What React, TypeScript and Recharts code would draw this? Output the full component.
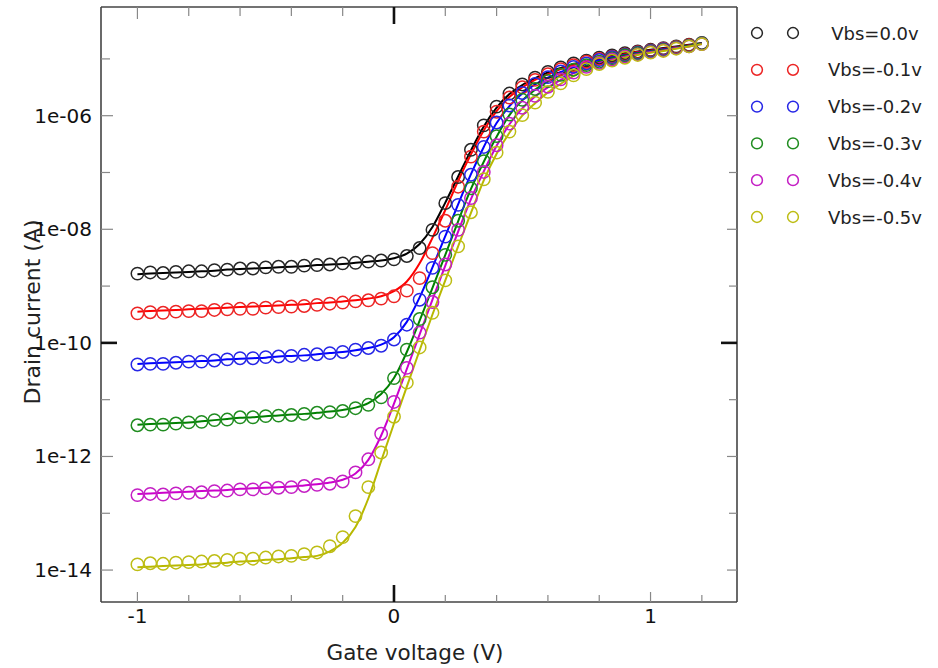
import React from 'react';
import { ComposedChart, Line, Scatter, XAxis, YAxis, Legend } from 'recharts';

// gate voltage sweep (V)
const gateVoltage = [
  -1, -0.95, -0.9, -0.85, -0.8, -0.75, -0.7, -0.65, -0.6, -0.55, -0.5, -0.45, -0.4, -0.35, -0.3,
  -0.25, -0.2, -0.15, -0.1, -0.05, 0, 0.05, 0.1, 0.15, 0.2, 0.25, 0.3, 0.35, 0.4, 0.45, 0.5,
  0.55, 0.6, 0.65, 0.7, 0.75, 0.8, 0.85, 0.9, 0.95, 1.0, 1.05, 1.1, 1.15, 1.2,
];

// measured drain current, log10(A)
const measBs00 = [
  -8.78, -8.76, -8.77, -8.75, -8.74, -8.74, -8.72, -8.71, -8.69, -8.69, -8.67, -8.66, -8.66, -8.64, -8.63,
  -8.62, -8.6, -8.59, -8.57, -8.55, -8.53, -8.47, -8.33, -8.01, -7.54, -7.08, -6.6, -6.17, -5.84, -5.61,
  -5.45, -5.33, -5.23, -5.15, -5.08, -5.03, -4.98, -4.94, -4.9, -4.87, -4.84, -4.81, -4.78, -4.75, -4.72,
];
const measBs01 = [
  -9.48, -9.46, -9.47, -9.45, -9.44, -9.44, -9.42, -9.41, -9.4, -9.4, -9.38, -9.37, -9.36, -9.35, -9.33,
  -9.31, -9.29, -9.27, -9.25, -9.22, -9.18, -9.08, -8.86, -8.42, -7.85, -7.25, -6.72, -6.28, -5.93, -5.68,
  -5.5, -5.37, -5.27, -5.18, -5.11, -5.05, -5.0, -4.96, -4.92, -4.88, -4.85, -4.82, -4.79, -4.76, -4.73,
];
const measBs02 = [
  -10.38, -10.37, -10.37, -10.35, -10.33, -10.33, -10.31, -10.29, -10.27, -10.27, -10.25, -10.24, -10.23, -10.21, -10.2,
  -10.18, -10.16, -10.12, -10.09, -10.05, -9.94, -9.68, -9.24, -8.68, -8.13, -7.57, -7.04, -6.55, -6.12, -5.82,
  -5.6, -5.44, -5.32, -5.22, -5.14, -5.08, -5.02, -4.97, -4.93, -4.89, -4.86, -4.83, -4.8, -4.77, -4.73,
];
const measBs03 = [
  -11.45, -11.44, -11.44, -11.42, -11.4, -11.39, -11.36, -11.35, -11.31, -11.31, -11.29, -11.28, -11.27, -11.25, -11.23,
  -11.22, -11.2, -11.15, -11.09, -10.96, -10.62, -10.12, -9.58, -9.02, -8.45, -7.85, -7.28, -6.8, -6.36, -5.98,
  -5.72, -5.53, -5.39, -5.28, -5.19, -5.11, -5.05, -4.99, -4.94, -4.9, -4.87, -4.84, -4.8, -4.77, -4.73,
];
const measBs04 = [
  -12.68, -12.66, -12.67, -12.65, -12.64, -12.63, -12.61, -12.6, -12.58, -12.58, -12.56, -12.55, -12.54, -12.52, -12.5,
  -12.48, -12.44, -12.28, -12.05, -11.6, -11.04, -10.44, -9.82, -9.28, -8.62, -8.01, -7.45, -6.99, -6.52, -6.14,
  -5.86, -5.65, -5.49, -5.36, -5.24, -5.14, -5.07, -5.01, -4.96, -4.92, -4.88, -4.85, -4.81, -4.78, -4.74,
];
const measBs05 = [
  -13.9, -13.88, -13.89, -13.87, -13.86, -13.85, -13.84, -13.82, -13.8, -13.8, -13.78, -13.76, -13.75, -13.72, -13.69,
  -13.58, -13.42, -13.05, -12.54, -11.93, -11.3, -10.7, -10.08, -9.47, -8.9, -8.3, -7.7, -7.12, -6.65, -6.28,
  -5.99, -5.77, -5.58, -5.43, -5.29, -5.18, -5.09, -5.03, -4.98, -4.93, -4.89, -4.86, -4.82, -4.78, -4.74,
];

// model fit, log10(A)
const fitBs00 = [
  -8.79, -8.78, -8.77, -8.76, -8.75, -8.74, -8.73, -8.71, -8.7, -8.69, -8.68, -8.67, -8.66, -8.65, -8.63,
  -8.62, -8.61, -8.59, -8.57, -8.55, -8.51, -8.43, -8.26, -7.96, -7.53, -7.07, -6.61, -6.19, -5.86, -5.62,
  -5.46, -5.34, -5.24, -5.16, -5.09, -5.03, -4.98, -4.94, -4.9, -4.87, -4.84, -4.81, -4.78, -4.75, -4.72,
];
const fitBs01 = [
  -9.45, -9.44, -9.43, -9.42, -9.41, -9.4, -9.39, -9.38, -9.37, -9.36, -9.35, -9.34, -9.33, -9.32, -9.3,
  -9.29, -9.27, -9.25, -9.22, -9.18, -9.09, -8.92, -8.6, -8.15, -7.66, -7.15, -6.68, -6.26, -5.92, -5.67,
  -5.5, -5.37, -5.27, -5.18, -5.11, -5.05, -5.0, -4.96, -4.92, -4.88, -4.85, -4.82, -4.79, -4.76, -4.73,
];
const fitBs02 = [
  -10.37, -10.36, -10.35, -10.34, -10.33, -10.32, -10.31, -10.29, -10.28, -10.27, -10.26, -10.24, -10.23, -10.22, -10.2,
  -10.18, -10.16, -10.13, -10.09, -10.03, -9.9, -9.63, -9.2, -8.67, -8.12, -7.56, -7.03, -6.55, -6.13, -5.83,
  -5.61, -5.45, -5.33, -5.23, -5.15, -5.08, -5.02, -4.97, -4.93, -4.89, -4.86, -4.83, -4.8, -4.77, -4.73,
];
const fitBs03 = [
  -11.44, -11.43, -11.42, -11.41, -11.4, -11.38, -11.36, -11.34, -11.32, -11.31, -11.29, -11.28, -11.26, -11.25, -11.23,
  -11.21, -11.18, -11.14, -11.06, -10.9, -10.62, -10.16, -9.61, -9.03, -8.45, -7.86, -7.29, -6.81, -6.37, -5.99,
  -5.73, -5.54, -5.4, -5.29, -5.2, -5.12, -5.05, -4.99, -4.94, -4.9, -4.87, -4.84, -4.8, -4.77, -4.73,
];
const fitBs04 = [
  -12.66, -12.65, -12.64, -12.63, -12.62, -12.61, -12.6, -12.59, -12.57, -12.56, -12.55, -12.54, -12.53, -12.51, -12.49,
  -12.46, -12.41, -12.3, -12.06, -11.63, -11.07, -10.46, -9.85, -9.24, -8.64, -8.04, -7.47, -6.98, -6.53, -6.15,
  -5.87, -5.66, -5.5, -5.37, -5.25, -5.15, -5.07, -5.01, -4.96, -4.92, -4.88, -4.85, -4.81, -4.78, -4.74,
];
const fitBs05 = [
  -13.95, -13.94, -13.93, -13.92, -13.91, -13.9, -13.88, -13.87, -13.85, -13.84, -13.82, -13.81, -13.79, -13.77, -13.75,
  -13.67, -13.52, -13.24, -12.74, -12.08, -11.42, -10.77, -10.13, -9.5, -8.9, -8.3, -7.71, -7.14, -6.67, -6.3,
  -6.0, -5.78, -5.59, -5.44, -5.3, -5.19, -5.1, -5.03, -4.98, -4.93, -4.89, -4.86, -4.82, -4.78, -4.74,
];

const seriesNames = ['Vbs=0.0v', 'Vbs=-0.1v', 'Vbs=-0.2v', 'Vbs=-0.3v', 'Vbs=-0.4v', 'Vbs=-0.5v'];
const markerColors = ['#262626', '#ec2424', '#2626e6', '#1f8c1f', '#c41fc4', '#bdbd14'];
const lineColors = ['#000000', '#ff0000', '#0000ff', '#008000', '#cc00cc', '#b8b800'];
const measured = [measBs00, measBs01, measBs02, measBs03, measBs04, measBs05];
const fitted = [fitBs00, fitBs01, fitBs02, fitBs03, fitBs04, fitBs05];

const xTicks = [-1, -0.8, -0.6, -0.4, -0.2, 0, 0.2, 0.4, 0.6, 0.8, 1, 1.2];
const xTickLabels = ['-1', '', '', '', '', '0', '', '', '', '', '1', ''];
const yTicks = [1e-14, 1e-13, 1e-12, 1e-11, 1e-10, 1e-9, 1e-8, 1e-7, 1e-6, 1e-5];
const yTickLabels = ['1e-14', '', '1e-12', '', '1e-10', '', '1e-08', '', '1e-06', ''];

const xDomain = [-1.142, 1.337];
const yDomain = [2.74e-15, 8.2e-5];

const PLOT_TOP = 7;
const PLOT_BOTTOM = 602;

const toPoints = (logs: number[]) => gateVoltage.map((v, i) => ({ x: v, y: Math.pow(10, logs[i]) }));

const FONT = 'DejaVu Sans, Verdana, sans-serif';
const frame = { stroke: '#444', strokeWidth: 1.6 };

const findX = (v: number) => xTicks.findIndex((t) => Math.abs(t - v) < 1e-6);
const findY = (v: number) => yTicks.findIndex((t) => Math.abs(t - v) < t * 1e-6);

const tickStroke = (accent: boolean) => (accent ? { stroke: '#111', strokeWidth: 2.6 } : { stroke: '#888', strokeWidth: 1.2 });

// x ticks: drawn inward at bottom and top of the frame, labels under it
const BottomTick = (props: any) => {
  const { x, y, payload } = props;
  const i = findX(payload.value);
  const label = xTickLabels[i];
  const accent = xTicks[i] === 0;
  const len = accent ? 17 : label ? 10 : 7;
  const topLen = accent ? 17 : label ? 12 : 9;
  const top = y - (PLOT_BOTTOM - PLOT_TOP);
  return (
    <g>
      <line x1={x} x2={x} y1={y} y2={y - len} {...tickStroke(accent)} />
      <line x1={x} x2={x} y1={top} y2={top + topLen} {...tickStroke(accent)} />
      {label && (
        <text x={x} y={y + 14} textAnchor="middle" dominantBaseline="central" fontFamily={FONT} fontSize={20} fill="#111">
          {label}
        </text>
      )}
    </g>
  );
};

const LeftTick = (props: any) => {
  const { x, y, payload } = props;
  const i = findY(payload.value);
  const label = yTickLabels[i];
  const accent = yTicks[i] === 1e-10;
  const len = accent ? 16 : label ? 12 : 9;
  return (
    <g>
      <line x1={x} x2={x + len} y1={y} y2={y} {...tickStroke(accent)} />
      {label && (
        <text x={x - 9} y={y} textAnchor="end" dominantBaseline="central" fontFamily={FONT} fontSize={20} fill="#111">
          {label}
        </text>
      )}
    </g>
  );
};

const RightTick = (props: any) => {
  const { x, y, payload } = props;
  const i = findY(payload.value);
  const accent = yTicks[i] === 1e-10;
  const len = accent ? 16 : yTickLabels[i] ? 10 : 8;
  return <line x1={x} x2={x - len} y1={y} y2={y} {...tickStroke(accent)} />;
};

const OpenCircle = (color: string) => (p: any) =>
  <circle cx={p.cx} cy={p.cy} r={6.2} fill="none" stroke={color} strokeWidth={1.5} />;

const renderLegend = () => (
  <svg width={198} height={240}>
    {seriesNames.map((name, i) => {
      const cy = 33 + i * 36.8;
      return (
        <g key={name}>
          <circle cx={17} cy={cy} r={5.4} fill="none" stroke={markerColors[i]} strokeWidth={1.5} />
          <circle cx={53} cy={cy} r={5.4} fill="none" stroke={markerColors[i]} strokeWidth={1.5} />
          <text x={135} y={cy} textAnchor="middle" dominantBaseline="central" fontFamily={FONT} fontSize={18} fill="#222">
            {name}
          </text>
        </g>
      );
    })}
  </svg>
);

export default function App() {
  return (
    <div style={{ position: 'absolute', left: 0, top: 0, width: 938, height: 668, background: '#fff' }}>
      <ComposedChart width={938} height={668} margin={{ top: 6, right: 200, bottom: 0, left: 0 }}>
        <XAxis
          dataKey="x"
          type="number"
          domain={xDomain}
          ticks={xTicks}
          interval={0}
          allowDataOverflow
          height={66}
          tickSize={0}
          tickMargin={0}
          tickLine={false}
          axisLine={frame}
          tick={BottomTick}
          label={{
            content: () => (
              <text x={415} y={652} textAnchor="middle" dominantBaseline="central" fontFamily={FONT} fontSize={21.5} fill="#222">
                Gate voltage (V)
              </text>
            ),
          }}
        />
        <XAxis
          xAxisId="top"
          orientation="top"
          type="number"
          domain={xDomain}
          height={1}
          tick={false}
          tickLine={false}
          axisLine={frame}
        />
        <YAxis
          dataKey="y"
          type="number"
          scale="log"
          domain={yDomain}
          ticks={yTicks}
          interval={0}
          allowDataOverflow
          width={101}
          tickSize={0}
          tickMargin={0}
          tickLine={false}
          axisLine={frame}
          tick={LeftTick}
          label={{
            content: () => (
              <text
                x={32}
                y={312}
                transform="rotate(-90 32 312)"
                textAnchor="middle"
                dominantBaseline="central"
                fontFamily={FONT}
                fontSize={22}
                fill="#222"
              >
                Drain current (A)
              </text>
            ),
          }}
        />
        <YAxis
          yAxisId="right"
          orientation="right"
          type="number"
          scale="log"
          domain={yDomain}
          ticks={yTicks}
          interval={0}
          allowDataOverflow
          width={1}
          tickSize={0}
          tickMargin={0}
          tickLine={false}
          axisLine={frame}
          tick={RightTick}
        />
        {fitted.map((logs, i) => (
          <Line
            key={`fit-${i}`}
            data={toPoints(logs)}
            dataKey="y"
            type="monotone"
            stroke={lineColors[i]}
            strokeWidth={2}
            dot={false}
            activeDot={false}
            isAnimationActive={false}
          />
        ))}
        {measured.map((logs, i) => (
          <Scatter
            key={`meas-${i}`}
            name={seriesNames[i]}
            data={toPoints(logs)}
            dataKey="y"
            shape={OpenCircle(markerColors[i])}
            isAnimationActive={false}
          />
        ))}
        <Legend
          layout="horizontal"
          align="center"
          verticalAlign="middle"
          wrapperStyle={{ left: 740, top: 0, width: 198, height: 240 }}
          content={renderLegend}
        />
      </ComposedChart>
    </div>
  );
}
